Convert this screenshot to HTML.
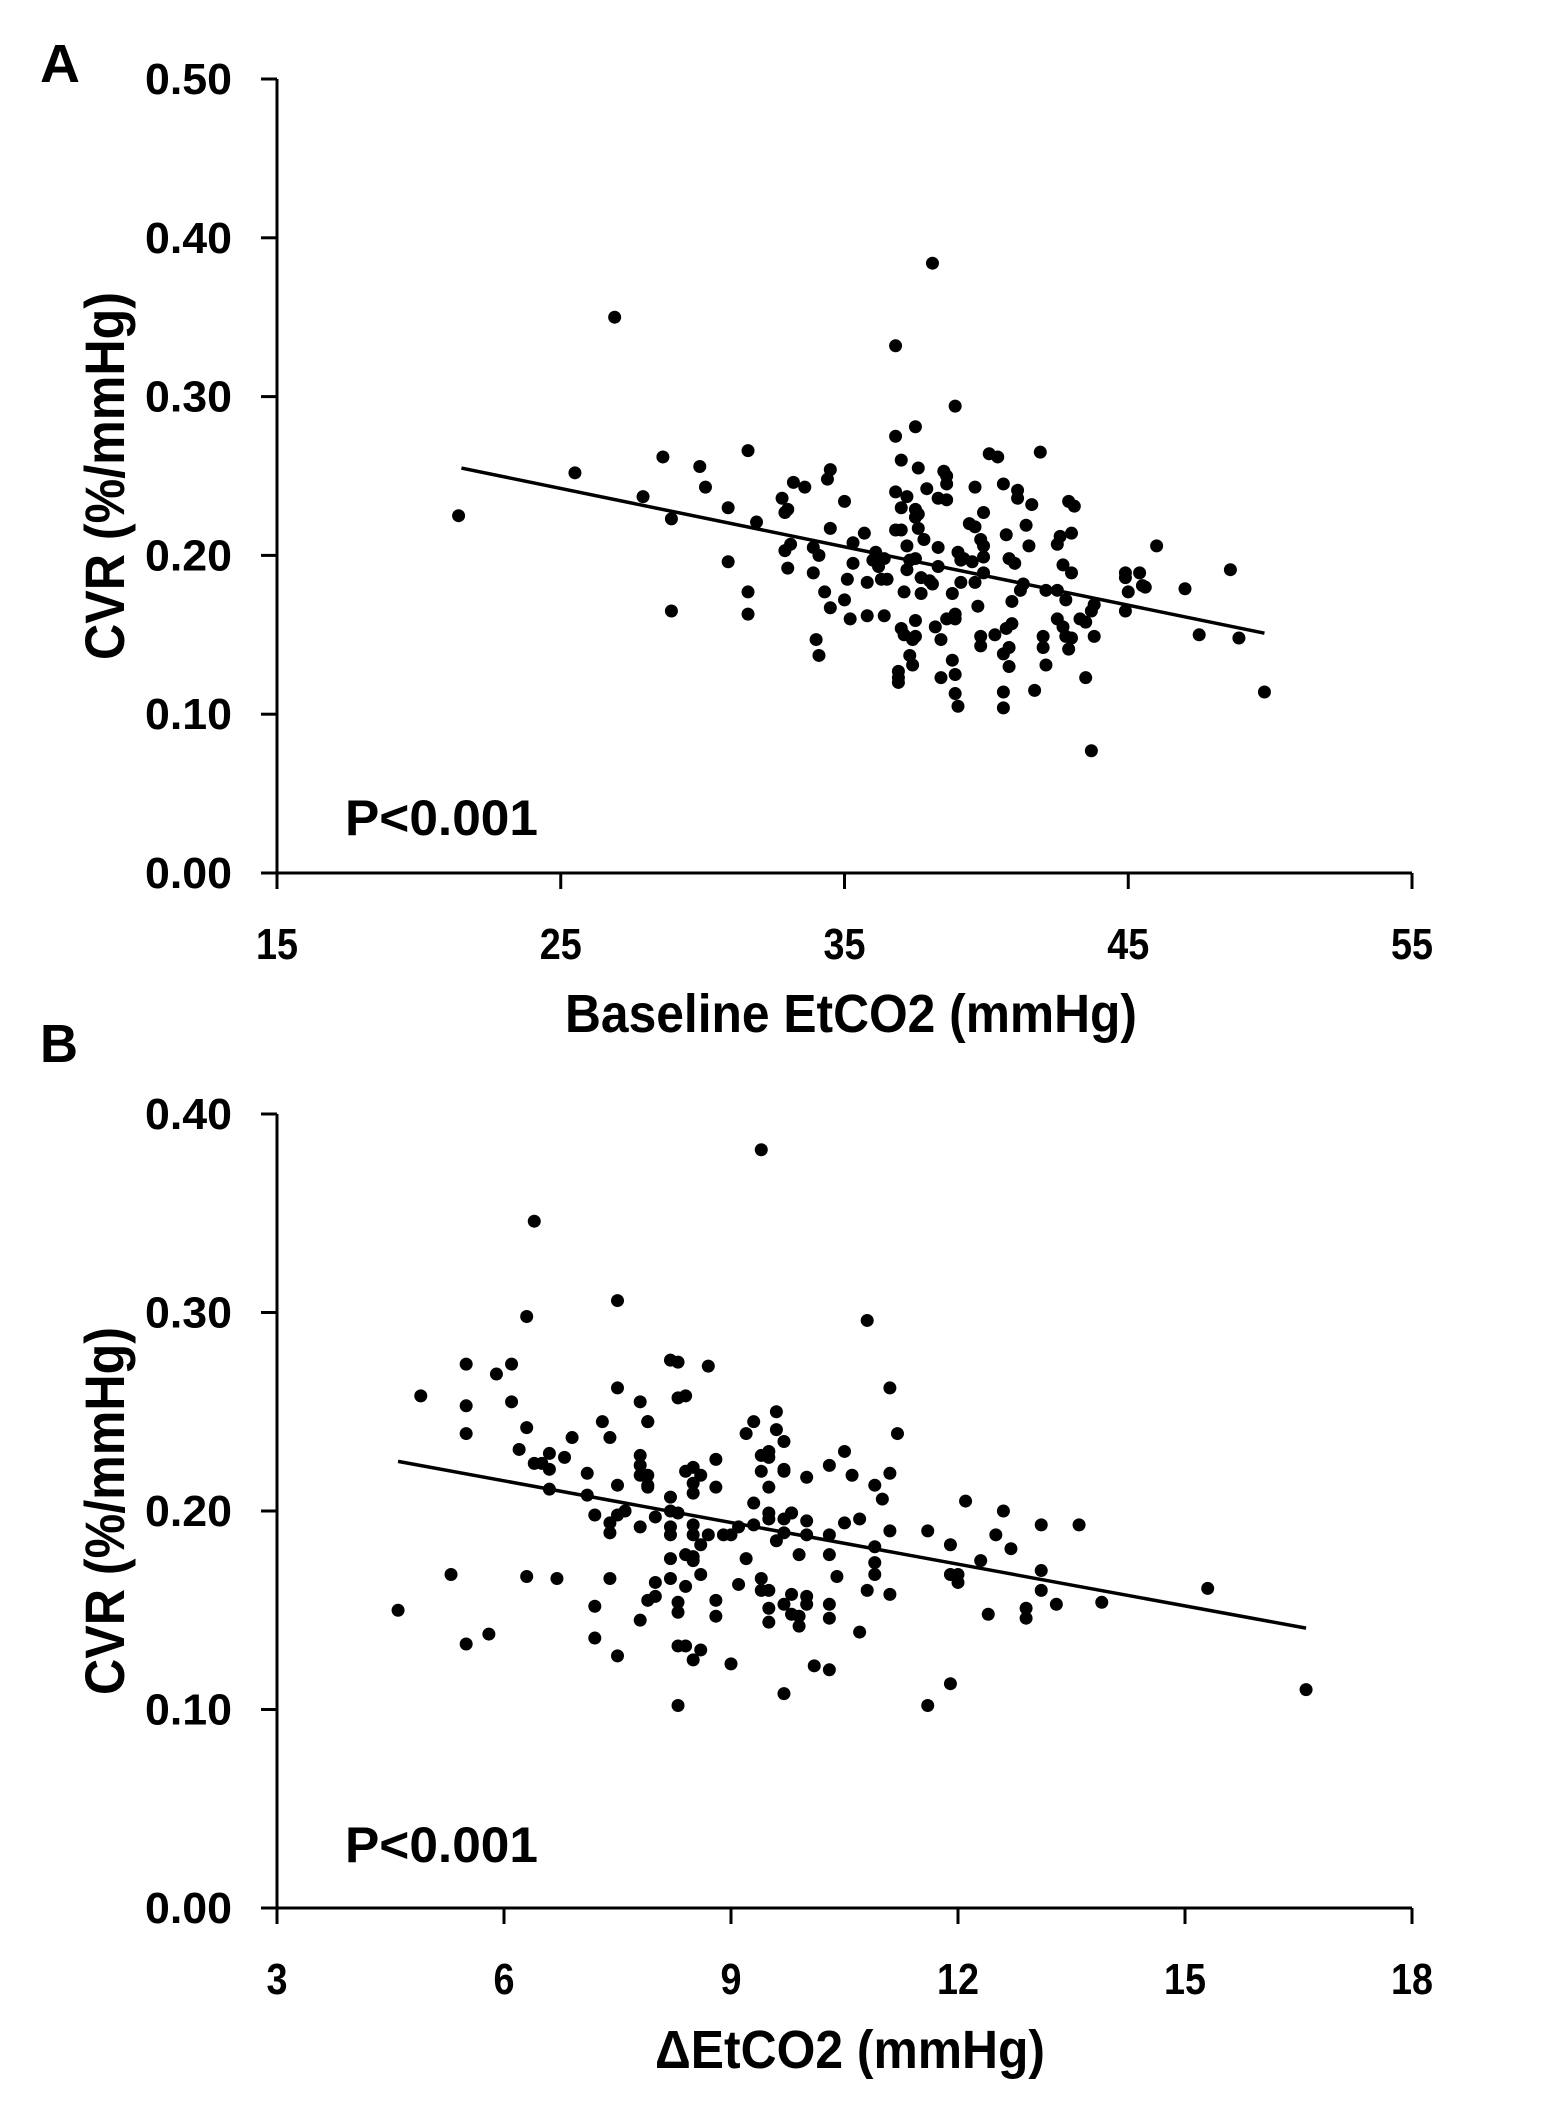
<!DOCTYPE html>
<html><head><meta charset="utf-8"><title>CVR vs EtCO2</title>
<style>
html,body{margin:0;padding:0;background:#fff;}
svg{display:block;font-family:"Liberation Sans",sans-serif;font-weight:bold;}
</style></head>
<body>
<svg id="chart" width="1558" height="2115" viewBox="0 0 1558 2115" xmlns="http://www.w3.org/2000/svg">
<text x="40" y="82" font-size="54" textLength="40" lengthAdjust="spacingAndGlyphs">A</text>
<text x="40" y="1062" font-size="54" textLength="38" lengthAdjust="spacingAndGlyphs">B</text>
<g id="panelA"></g>
<g id="panelB"></g>
</svg>
<script>
const aX = [21.4,25.5,26.9,27.9,28.6,28.9,28.9,29.9,30.1,30.9,30.9,31.6,31.6,31.6,31.9,32.8,32.9,33.0,32.9,33.0,33.1,33.2,33.6,33.9,33.9,34.0,34.1,34.1,34.3,34.4,34.5,34.5,34.5,35.0,35.0,35.1,35.2,35.3,35.3,35.7,35.8,35.8,36.0,36.1,36.2,36.3,36.4,36.4,36.5,36.8,36.8,36.8,36.8,36.9,36.9,36.9,37.0,37.0,37.0,37.0,37.1,37.1,37.2,37.2,37.2,37.3,37.3,37.4,37.4,37.5,37.5,37.5,37.5,37.5,37.5,37.6,37.6,37.6,37.7,37.7,37.8,37.9,38.0,38.1,38.1,38.2,38.3,38.3,38.3,38.4,38.4,38.5,38.6,38.6,38.6,38.6,38.8,38.8,38.9,38.9,38.9,38.9,38.9,39.0,39.0,39.1,39.1,39.2,39.4,39.5,39.6,39.6,39.6,39.7,39.8,39.8,39.8,39.9,39.9,39.9,39.9,40.1,40.3,40.4,40.6,40.6,40.6,40.6,40.7,40.7,40.8,40.8,40.8,40.9,40.9,41.0,41.1,41.1,41.2,41.3,41.4,41.5,41.6,41.7,41.9,42.0,42.0,42.1,42.1,42.5,42.5,42.5,42.6,42.7,42.7,42.8,42.8,42.9,42.9,43.0,43.0,43.0,43.1,43.3,43.5,43.5,43.7,43.7,43.8,43.8,44.9,44.9,44.9,45.0,45.4,45.5,45.6,46.0,47.0,47.5,48.6,48.9,49.8];
const aY = [0.225,0.252,0.350,0.237,0.262,0.223,0.165,0.256,0.243,0.196,0.230,0.177,0.266,0.163,0.221,0.236,0.227,0.229,0.203,0.192,0.207,0.246,0.243,0.205,0.189,0.147,0.137,0.200,0.177,0.248,0.254,0.217,0.167,0.172,0.234,0.185,0.160,0.208,0.195,0.214,0.162,0.183,0.197,0.202,0.193,0.185,0.198,0.162,0.185,0.216,0.332,0.275,0.240,0.127,0.120,0.123,0.260,0.216,0.230,0.154,0.150,0.177,0.206,0.191,0.237,0.137,0.197,0.147,0.131,0.159,0.149,0.281,0.224,0.229,0.198,0.255,0.226,0.217,0.186,0.176,0.210,0.242,0.184,0.384,0.182,0.155,0.193,0.236,0.205,0.123,0.147,0.253,0.235,0.160,0.250,0.245,0.176,0.134,0.163,0.125,0.160,0.294,0.113,0.202,0.105,0.197,0.183,0.198,0.220,0.196,0.218,0.183,0.243,0.168,0.149,0.143,0.210,0.206,0.227,0.189,0.199,0.264,0.150,0.262,0.245,0.114,0.104,0.138,0.154,0.213,0.198,0.142,0.130,0.157,0.171,0.195,0.241,0.236,0.178,0.182,0.219,0.206,0.232,0.115,0.265,0.142,0.149,0.131,0.178,0.160,0.207,0.178,0.212,0.194,0.155,0.172,0.149,0.234,0.141,0.189,0.214,0.148,0.231,0.160,0.123,0.158,0.165,0.077,0.149,0.169,0.189,0.165,0.186,0.177,0.189,0.181,0.180,0.206,0.179,0.150,0.191,0.148,0.114];
const aTrendX = [21.5, 49.8];
const aTrendY = [0.255, 0.151];
const aXTicks = [15,25,35,45,55];
const aYTicks = ["0.00","0.10","0.20","0.30","0.40","0.50"];

const bX = [4.6,4.9,5.3,5.5,5.5,5.5,5.5,5.8,5.9,6.1,6.1,6.2,6.3,6.3,6.3,6.4,6.4,6.5,6.6,6.6,6.6,6.7,6.8,6.9,7.1,7.1,7.2,7.2,7.2,7.3,7.4,7.4,7.4,7.4,7.5,7.5,7.5,7.5,7.5,7.6,7.8,7.8,7.8,7.8,7.8,7.8,7.9,7.9,7.9,7.9,7.9,7.9,8.0,8.0,8.0,8.2,8.2,8.2,8.2,8.2,8.2,8.2,8.3,8.3,8.3,8.3,8.3,8.3,8.3,8.4,8.4,8.4,8.4,8.4,8.5,8.5,8.5,8.5,8.5,8.5,8.5,8.5,8.6,8.6,8.6,8.6,8.7,8.7,8.8,8.8,8.8,8.8,8.9,9.0,9.0,9.1,9.1,9.2,9.2,9.3,9.3,9.3,9.4,9.4,9.4,9.4,9.4,9.5,9.5,9.5,9.5,9.5,9.5,9.5,9.5,9.6,9.6,9.6,9.7,9.7,9.7,9.7,9.7,9.7,9.7,9.8,9.8,9.8,9.8,9.9,9.9,9.9,10.0,10.0,10.0,10.0,10.0,10.1,10.3,10.3,10.3,10.3,10.3,10.3,10.4,10.5,10.5,10.6,10.7,10.7,10.8,10.8,10.9,10.9,10.9,10.9,11.0,11.1,11.1,11.1,11.1,11.2,11.6,11.6,11.9,11.9,11.9,12.0,12.0,12.1,12.3,12.4,12.5,12.6,12.7,12.9,12.9,13.1,13.1,13.1,13.3,13.6,13.9,15.3,16.6];
const bY = [0.150,0.258,0.168,0.274,0.253,0.133,0.239,0.138,0.269,0.274,0.255,0.231,0.167,0.242,0.298,0.346,0.224,0.224,0.229,0.221,0.211,0.166,0.227,0.237,0.208,0.219,0.152,0.136,0.198,0.245,0.237,0.194,0.166,0.189,0.127,0.213,0.306,0.262,0.198,0.200,0.255,0.228,0.223,0.218,0.192,0.145,0.245,0.155,0.213,0.218,0.245,0.212,0.164,0.157,0.197,0.176,0.192,0.188,0.276,0.207,0.200,0.166,0.275,0.154,0.257,0.102,0.132,0.149,0.199,0.178,0.258,0.162,0.132,0.220,0.188,0.209,0.193,0.175,0.222,0.125,0.214,0.177,0.168,0.183,0.218,0.130,0.273,0.188,0.155,0.226,0.212,0.147,0.188,0.123,0.188,0.192,0.163,0.239,0.176,0.245,0.193,0.204,0.166,0.228,0.160,0.220,0.382,0.144,0.199,0.227,0.212,0.151,0.160,0.230,0.196,0.185,0.250,0.241,0.189,0.220,0.153,0.235,0.108,0.221,0.196,0.199,0.148,0.199,0.158,0.142,0.178,0.147,0.188,0.217,0.157,0.153,0.195,0.122,0.146,0.188,0.223,0.178,0.153,0.120,0.167,0.194,0.230,0.218,0.139,0.196,0.296,0.160,0.168,0.182,0.174,0.213,0.206,0.219,0.190,0.158,0.262,0.239,0.190,0.102,0.113,0.183,0.168,0.168,0.164,0.205,0.175,0.148,0.188,0.200,0.181,0.151,0.146,0.160,0.193,0.170,0.153,0.193,0.154,0.161,0.110];
const bTrendX = [4.6, 16.6];
const bTrendY = [0.225, 0.141];
const bXTicks = [3,6,9,12,15,18];
const bYTicks = ["0.00","0.10","0.20","0.30","0.40"];

const NS = "http://www.w3.org/2000/svg";
function mk(tag, attrs, parent){
  const e = document.createElementNS(NS, tag);
  for (const k in attrs) e.setAttribute(k, attrs[k]);
  parent.appendChild(e);
  return e;
}

function drawPanel(g, cfg){
  const sx = v => cfg.px0 + (v - cfg.xmin) / (cfg.xmax - cfg.xmin) * (cfg.px1 - cfg.px0);
  const sy = v => cfg.py0 - (v - cfg.ymin) / (cfg.ymax - cfg.ymin) * (cfg.py0 - cfg.py1);
  const ya = mk("line", {x1:cfg.px0, y1:cfg.py1, x2:cfg.px0, y2:cfg.py0+16, stroke:"#000","stroke-width":3}, g);
  
  
  const xa = mk("line", {x1:cfg.px0-16, y1:cfg.py0, x2:cfg.px1, y2:cfg.py0, stroke:"#000","stroke-width":3}, g);
  
  
  cfg.yTicks.forEach(t => {
    const y = sy(parseFloat(t));
    const tk = mk("line", {x1:cfg.px0-16, y1:y, x2:cfg.px0, y2:y, stroke:"#000","stroke-width":3}, g);
    
    
    const tx = mk("text", {x:232, y:y+15, "font-size":44, "text-anchor":"end", textLength:87, lengthAdjust:"spacingAndGlyphs"}, g);
    tx.textContent = t;
    
    
  });
  cfg.xTicks.forEach(t => {
    const x = sx(t);
    const tk = mk("line", {x1:x, y1:cfg.py0, x2:x, y2:cfg.py0+16, stroke:"#000","stroke-width":3}, g);
    
    
    const s = String(t);
    const tx = mk("text", {x:x, y:cfg.py0+86, "font-size":44, "text-anchor":"middle", textLength:(s.length*21), lengthAdjust:"spacingAndGlyphs"}, g);
    tx.textContent = s;
    
    
  });
  const tl = mk("line", {x1:sx(cfg.tx[0]), y1:sy(cfg.ty[0]), x2:sx(cfg.tx[1]), y2:sy(cfg.ty[1]), stroke:"#000","stroke-width":3.5}, g);
  
  
  for (let i = 0; i < cfg.xs.length; i++){
    const c = mk("circle", {cx:sx(cfg.xs[i]), cy:sy(cfg.ys[i]), r:6.5, fill:"#000"}, g);
    
    
  }
  const p = mk("text", {x:345, y:cfg.pY, "font-size":50, textLength:193, lengthAdjust:"spacingAndGlyphs"}, g);
  p.textContent = "P<0.001";
  
  
  const xt = mk("text", {x:cfg.xtX, y:cfg.xtY, "font-size":54, "text-anchor":"middle", textLength:cfg.xtLen, lengthAdjust:"spacingAndGlyphs"}, g);
  xt.textContent = cfg.xTitle;
  
  
  const cy = (cfg.py0 + cfg.py1) / 2;
  const yt = mk("text", {x:0, y:0, "font-size":56, "text-anchor":"middle", textLength:368, lengthAdjust:"spacingAndGlyphs", transform:"translate(124," + cy + ") rotate(-90)"}, g);
  yt.textContent = "CVR (%/mmHg)";
  
  
}

drawPanel(document.getElementById("panelA"), {
  xmin:15, xmax:55, ymin:0, ymax:0.5, px0:277, px1:1412, py0:873, py1:79,
  xs:aX, ys:aY, tx:aTrendX, ty:aTrendY, xTicks:aXTicks, yTicks:aYTicks,
  pY:835, xTitle:"Baseline EtCO2 (mmHg)", xtX:851, xtY:1032, xtLen:572
});
drawPanel(document.getElementById("panelB"), {
  xmin:3, xmax:18, ymin:0, ymax:0.4, px0:277, px1:1412, py0:1908, py1:1114,
  xs:bX, ys:bY, tx:bTrendX, ty:bTrendY, xTicks:bXTicks, yTicks:bYTicks,
  pY:1862, xTitle:"\u0394EtCO2 (mmHg)", xtX:850, xtY:2068, xtLen:390
});
</script>
</body></html>
